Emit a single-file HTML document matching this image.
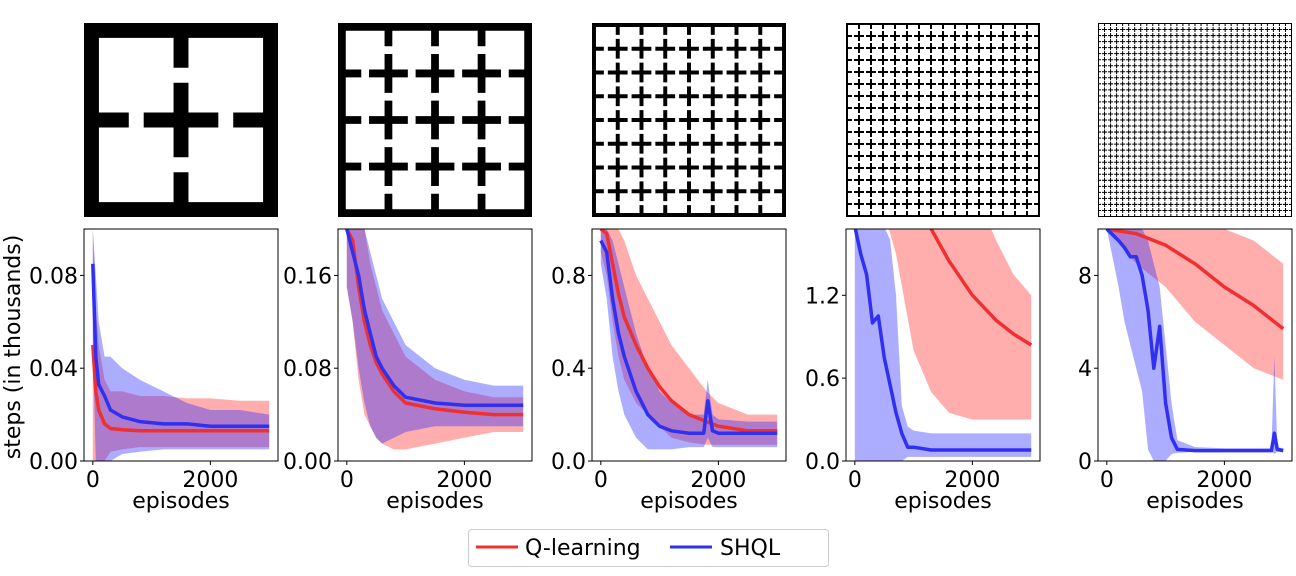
<!DOCTYPE html>
<html><head><meta charset="utf-8"><style>
html,body{margin:0;padding:0;background:#fff;}
svg{display:block;font-family:"DejaVu Sans","Liberation Sans",sans-serif;}
</style></head><body>
<svg id="fig" width="1296" height="576" viewBox="0 0 1296 576" xmlns="http://www.w3.org/2000/svg">
<g id="mazes"></g>
<g id="charts"></g>
<text transform="translate(20,347) rotate(-90)" text-anchor="middle" font-size="22">steps (in thousands)</text>
<g>
<rect x="468.5" y="529.5" width="360" height="37" rx="3" fill="#fff" stroke="#ccc"/>
<line x1="476" y1="547" x2="518" y2="547" stroke="#f03030" stroke-width="3"/>
<text x="525" y="555" font-size="22">Q-learning</text>
<line x1="670" y1="547" x2="712" y2="547" stroke="#3030f0" stroke-width="3"/>
<text x="720" y="555" font-size="22">SHQL</text>
</g>
</svg>
<script>
const NS="http://www.w3.org/2000/svg";
const roomsPerSide=[2,4,8,16,32];
const panelLeft=[84,338,592,846,1098];
const yMax=[0.1,0.2,1.0,1.68,10];
const yTicks=[[0,0.04,0.08],[0,0.08,0.16],[0,0.4,0.8],[0,0.6,1.2],[0,4,8]];
const yTickLabels=[["0.00","0.04","0.08"],["0.00","0.08","0.16"],["0.0","0.4","0.8"],["0.0","0.6","1.2"],["0","4","8"]];
const xTicks=[0,2000];
const xTickLabels=["0","2000"];
// Q-learning
const qEp=[[0,50,100,200,300,500,800,1200,1600,2000,2500,3000],[0,100,200,300,400,500,600,800,1000,1500,2000,2500,3000],[0,100,200,300,400,600,800,1000,1200,1500,1800,2000,2500,3000],[0,500,700,1000,1300,1600,2000,2400,2700,3000],[0,500,1000,1500,2000,2500,3000]];
const qMean=[[0.05,0.03,0.022,0.016,0.014,0.0135,0.013,0.013,0.013,0.013,0.013,0.013],[0.2,0.19,0.15,0.12,0.1,0.085,0.075,0.06,0.05,0.045,0.042,0.04,0.04],[1.0,0.98,0.85,0.72,0.62,0.5,0.4,0.32,0.26,0.2,0.17,0.15,0.13,0.13],[2.6,2.2,2.05,1.9,1.68,1.45,1.2,1.02,0.92,0.84],[10,9.8,9.3,8.5,7.5,6.7,5.7]];
const qLo=[[0,0,0,0,0.004,0.005,0.006,0.006,0.006,0.006,0.006,0.006],[0.15,0.12,0.07,0.04,0.03,0.02,0.015,0.01,0.01,0.015,0.02,0.025,0.025],[0.9,0.8,0.6,0.45,0.35,0.25,0.2,0.15,0.1,0.08,0.07,0.07,0.07,0.07],[2.0,1.8,1.5,0.8,0.5,0.35,0.3,0.3,0.3,0.3],[10,8.5,7.5,6,5,4,3.5]];
const qHi=[[0.1,0.065,0.05,0.035,0.03,0.03,0.028,0.028,0.027,0.027,0.026,0.026],[0.2,0.2,0.2,0.2,0.17,0.15,0.13,0.11,0.09,0.07,0.06,0.055,0.055],[1.0,1.0,1.0,1.0,0.95,0.8,0.7,0.6,0.5,0.4,0.3,0.25,0.2,0.2],[3,3,3,3,3,2.5,2,1.6,1.35,1.2],[10,10,10,10,10,9.5,8.5]];
// SHQL
const sEp=[[0,50,100,200,300,500,800,1200,1600,2000,2500,3000],[0,100,200,300,400,500,600,800,1000,1500,2000,2500,3000],[0,100,200,300,400,600,800,1000,1200,1500,1750,1820,1900,2000,2500,3000],[0,100,200,300,400,500,600,700,800,900,1000,1300,2000,3000],[0,200,300,400,500,600,700,800,900,1000,1100,1200,1500,2000,2800,2850,2900,3000]];
const sMean=[[0.085,0.045,0.033,0.028,0.022,0.019,0.017,0.016,0.016,0.015,0.015,0.015],[0.2,0.18,0.16,0.13,0.11,0.09,0.08,0.065,0.055,0.05,0.048,0.048,0.048],[0.95,0.9,0.7,0.55,0.45,0.3,0.2,0.15,0.13,0.12,0.12,0.26,0.13,0.12,0.12,0.12],[1.7,1.5,1.35,1.0,1.05,0.75,0.55,0.35,0.2,0.1,0.1,0.08,0.08,0.08],[10,9.5,9.2,8.8,8.8,8,6.5,4,5.8,2.5,1,0.5,0.45,0.45,0.45,1.2,0.5,0.45]];
const sLo=[[0.05,0,0,0,0,0.003,0.004,0.005,0.005,0.005,0.005,0.005],[0.15,0.12,0.08,0.05,0.03,0.02,0.015,0.02,0.025,0.03,0.03,0.03,0.03],[0.85,0.7,0.45,0.3,0.2,0.1,0.05,0.05,0.05,0.06,0.06,0.1,0.06,0.06,0.06,0.06],[0,0,0,0,0,0,0,0,0,0.03,0.03,0.03,0.03,0.03],[10,7.5,6,5,4,3,0.5,0,0,0,0.3,0.35,0.4,0.4,0.4,0.3,0.4,0.4]];
const sHi=[[0.1,0.08,0.06,0.045,0.045,0.04,0.035,0.03,0.025,0.022,0.022,0.02],[0.2,0.2,0.2,0.2,0.18,0.16,0.14,0.12,0.1,0.08,0.07,0.065,0.065],[1.0,1.0,0.95,0.85,0.75,0.55,0.4,0.3,0.25,0.2,0.2,0.35,0.2,0.18,0.17,0.17],[1.7,1.7,1.7,1.7,1.7,1.7,1.6,1.2,0.4,0.25,0.22,0.2,0.2,0.2],[10,10,10,10,10,10,9.5,8.5,7.5,5,2.5,0.9,0.6,0.55,0.55,4.5,0.6,0.55]];

const mazeG=document.getElementById('mazes');
const chartG=document.getElementById('charts');
function mk(tag,attrs,parent){const e=document.createElementNS(NS,tag);for(const k in attrs)e.setAttribute(k,attrs[k]);parent.appendChild(e);return e;}

roomsPerSide.forEach((n,i)=>{
  const g=mk('g',{},mazeG);
  
  
  const cells=n*6+1, size=194, cs=size/cells, x0=panelLeft[i], y0=23;
  let d='';
  const R=(c,r,w,h)=>{d+=`M${(x0+c*cs).toFixed(2)} ${(y0+r*cs).toFixed(2)}h${(w*cs).toFixed(2)}v${(h*cs).toFixed(2)}h${(-w*cs).toFixed(2)}z`;};
  R(0,0,cells,1);R(0,cells-1,cells,1);R(0,0,1,cells);R(cells-1,0,1,cells);
  for(let k=1;k<n;k++){
    const w=k*6;
    for(let r=0;r<n;r++){
      const s=r*6+1;
      R(w,s,1,2);R(w,s+3,1,2);
      R(s,w,2,1);R(s+3,w,2,1);
    }
    for(let m=1;m<n;m++){R(w,m*6,1,1);}
  }
  const p=mk('path',{d:d,fill:'#000'},g);
  
  
});

const plotTop=229,plotBottom=461,W=194;
const epMin=-150,epMax=3150;
panelLeft.forEach((L,i)=>{
  const xs=v=>L+(v-epMin)/(epMax-epMin)*W;
  const ys=v=>plotBottom-v/yMax[i]*(plotBottom-plotTop);
  const g=mk('g',{},chartG);
  
  
  const cp=mk('clipPath',{id:'cp'+i},g);
  mk('rect',{x:L,y:plotTop,width:W,height:plotBottom-plotTop},cp);
  const plot=mk('g',{'clip-path':'url(#cp'+i+')'},g);
  const series=[[qEp[i],qMean[i],qLo[i],qHi[i],'rgba(255,40,40,0.38)','#f03030','q-learning'],[sEp[i],sMean[i],sLo[i],sHi[i],'rgba(40,40,255,0.38)','#3030f0','shql']];
  series.forEach(([ep,mean,lo,hi,fc,lc,nm])=>{
    let d='M'+ep.map((e,j)=>xs(e).toFixed(1)+' '+ys(hi[j]).toFixed(1)).join('L');
    for(let j=ep.length-1;j>=0;j--)d+='L'+xs(ep[j]).toFixed(1)+' '+ys(lo[j]).toFixed(1);
    const b=mk('path',{d:d+'Z',fill:fc},plot);
    
    
  });
  series.forEach(([ep,mean,lo,hi,fc,lc,nm])=>{
    const l=mk('polyline',{points:ep.map((e,j)=>xs(e).toFixed(1)+','+ys(mean[j]).toFixed(1)).join(' '),fill:'none',stroke:lc,'stroke-width':3.5,'stroke-linejoin':'round'},plot);
    
    
  });
  const fr=mk('rect',{x:L,y:plotTop,width:W,height:plotBottom-plotTop,fill:'none',stroke:'#000','stroke-width':1},g);
  
  
  yTicks[i].forEach((t,j)=>{
    const y=ys(t);
    mk('line',{x1:L-4,x2:L,y1:y,y2:y,stroke:'#000'},g);
    const tx=mk('text',{x:L-6,y:y+8,'text-anchor':'end','font-size':22},g);
    tx.textContent=yTickLabels[i][j];
    
    
  });
  xTicks.forEach((t,j)=>{
    const x=xs(t);
    mk('line',{x1:x,x2:x,y1:plotBottom,y2:plotBottom+4,stroke:'#000'},g);
    const tx=mk('text',{x:x,y:plotBottom+26,'text-anchor':'middle','font-size':22},g);
    tx.textContent=xTickLabels[j];
    
    
  });
  const xl=mk('text',{x:L+W/2,y:508,'text-anchor':'middle','font-size':22},g);
  xl.textContent='episodes';
  
  
});
</script>
</body></html>
